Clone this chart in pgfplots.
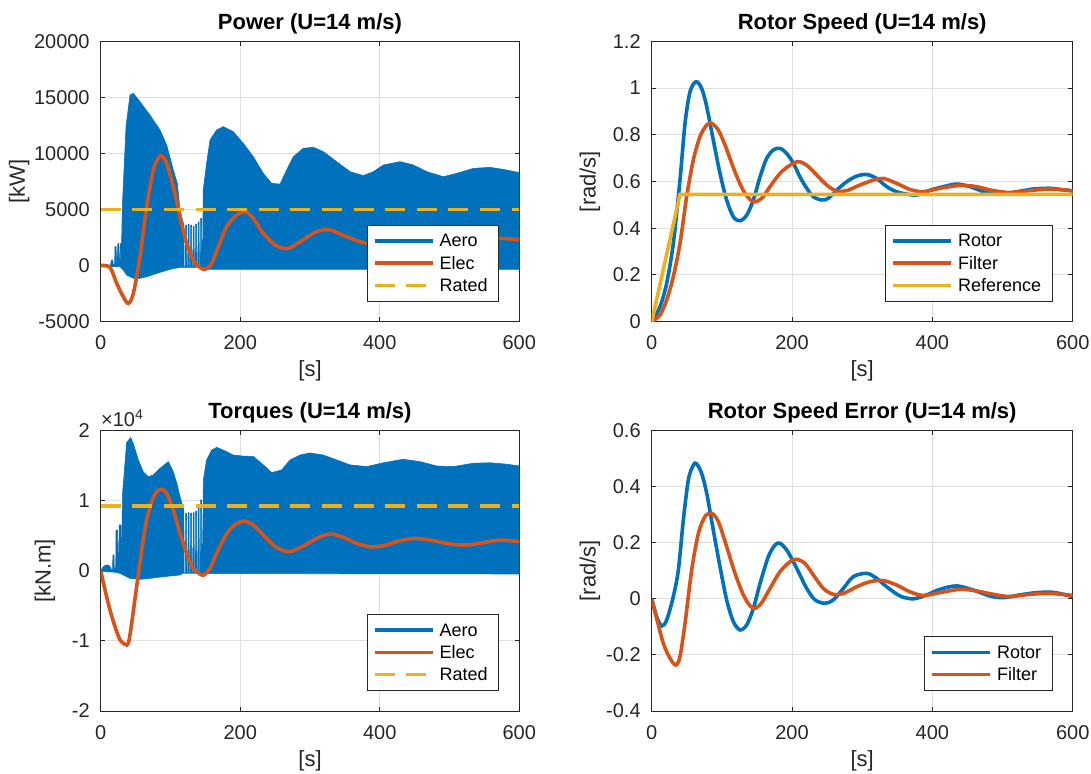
\documentclass[border=0pt]{standalone}
\usepackage{fontspec}
\setmainfont{Liberation Sans}
\usepackage{pgfplots}
\pgfplotsset{compat=1.18}
\definecolor{mblue}{rgb}{0,0.447,0.741}
\definecolor{morange}{rgb}{0.85,0.325,0.098}
\definecolor{myellow}{rgb}{0.929,0.694,0.125}
\definecolor{mtext}{rgb}{0.15,0.15,0.15}
\definecolor{mgrid}{HTML}{DFDFDF}
\pgfplotsset{
  mstyle/.style={
    scale only axis,
    axis line style={mtext, line width=0.5pt},
    tick style={mtext, line width=0.5pt},
    major tick length=2.2pt,
    tick align=inside,
    tick pos=both,
    xticklabel pos=lower, yticklabel pos=left,
    grid=major, grid style={mgrid, line width=0.5pt},
    xmin=0, xmax=600, xtick={0,200,400,600},
    tick label style={font=\fontsize{10}{11}\selectfont, text=mtext},
    xticklabel style={yshift=-3.5pt},
    yticklabel style={xshift=-2pt},
    label style={font=\fontsize{11}{12}\selectfont, text=mtext},
    title style={font=\bfseries\fontsize{11}{12}\selectfont, text=black, at={(axis description cs:0.5,1)}, anchor=base, yshift=0pt},
    xlabel={[s]},
    xlabel style={at={(axis description cs:0.5,-0.197)}, anchor=base},
    /pgf/number format/assume math mode=true,
    /pgf/number format/1000 sep={},
    legend cell align=left,
    legend image code/.code={\draw[##1] (0pt,0pt) -- (29pt,0pt);},
    legend style={font=\fontsize{9}{10}\selectfont, draw=mtext, line width=0.5pt, anchor=south east,
      inner xsep=3pt, inner ysep=2.4pt,
      nodes={text height=7.2pt, text depth=1.3pt, inner ysep=1.3pt, inner xsep=2.5pt, text=black}},
  },
  lw/.style={line width=1.8pt},
}
\begin{document}
\begin{tikzpicture}
\path[use as bounding box] (0,0) rectangle (545.5pt,386.5pt);

% ---------------- Power ----------------
\begin{axis}[mstyle, at={(50.35pt,225.65pt)}, anchor=south west,
  width=209.3pt, height=140.2pt,
  ymin=-5000, ymax=20000, ytick={-5000,0,5000,10000,15000,20000},
  scaled y ticks=false,
  title={Power (U=14 m/s)}, ylabel={[kW]},
  ylabel style={at={(axis description cs:-0.195,0.5)}, anchor=center},
  legend style={at={(axis description cs:0.952,0.0713)}}]
\addlegendimage{mblue, lw}
\addlegendentry{Aero}
\addplot[fill=mblue, draw=mblue, line width=0.3pt, forget plot] coordinates {
(0,0) (14,30) (15.5,500) (17,500) (18,100) (20,100) (20.5,1700) (22,1700) (23,300) (24,300)
(24.5,1900) (26,2000) (27,400) (28,400) (28.5,2000) (30,2000)
(31,5250) (36.3,12390) (42,15210) (46.8,15360) (56.3,14610) (70.7,13420) (85,12090) (94.6,10750)
(104.1,8520) (109.8,7330) (113.7,4960) (118.4,3770)
(119.2,3700) (119.6,-100) (121.4,-100) (121.8,3600) (123,3600) (123.4,-100) (125,-100) (125.4,3700)
(126.6,3700) (127,-100) (128.6,-100) (129,3600) (130.2,3600) (130.6,-100) (132.2,-100) (132.6,3500)
(133.8,3500) (134.2,-100) (135.8,-100) (136.2,3700) (137.4,3700) (137.8,-100) (139.4,-100) (139.8,3900)
(141,3900) (141.4,-100) (143,-100) (143.4,4200) (144.6,4200) (145,-100) (146,-100)
(147,6740) (151.8,9120) (156.7,11200) (166.2,12090) (175.8,12390) (190.1,11940) (204.4,10900)
(218.8,9710) (233.1,8220) (245.1,7330) (257,7270) (266.5,8520) (276.1,9710) (290.4,10460)
(304.8,10550) (319.1,10160) (338.2,9270) (357.3,8380) (376.4,8020) (390.8,8380) (405.1,8970)
(429,9270) (448.1,8970) (467.2,8380) (491.1,7930) (510.2,8220) (534.1,8670) (558,8760)
(577.1,8580) (600,8290)
(600,-330) (400,-330) (200,-330) (147,-330) (146,-150) (118,-150) (113.7,-150) (99.3,-330)
(80.3,-690) (66,-990) (56.3,-1130) (46.8,-1130) (37.2,-840) (32.4,-390) (30,-250) (28,-100) (0,-50)
} --cycle;
\addplot[morange, lw, smooth] coordinates {
(0,0) (13.3,-150) (22.9,-1580) (32.4,-2770) (39.6,-3370) (46.8,-2470) (56.3,800) (65.9,5250)
(75.4,8520) (82.6,9560) (87.4,9800) (94.6,9120) (104.1,7040) (113.7,4360) (123.2,1980) (132.8,500)
(142.3,-150) (149.5,-330) (159,200) (168.6,1690) (180.5,3470) (194.9,4510) (206.8,4810) (218.8,4210)
(233.1,2870) (252.2,1750) (268.9,1540) (285.6,2130) (309.5,3030) (328.6,3180) (352.5,2580)
(376.4,2050) (400,1950) (425,2350) (450,2700) (480,2450) (510,2150) (540,2300) (570,2450) (600,2300)
};
\addlegendentry{Elec}
\addplot[myellow, lw, dash pattern=on 10pt off 5.8pt] coordinates {(0,5000) (600,5000)};
\addlegendentry{Rated}
\end{axis}

% ---------------- Rotor speed ----------------
\begin{axis}[mstyle, at={(325.85pt,225.65pt)}, anchor=south west,
  width=210.5pt, height=140.2pt,
  ymin=0, ymax=1.2, ytick={0,0.2,0.4,0.6,0.8,1,1.2},
  title={Rotor Speed (U=14 m/s)}, ylabel={[rad/s]},
  ylabel style={at={(axis description cs:-0.147,0.5)}, anchor=center},
  legend style={at={(axis description cs:0.9525,0.0713)}}]
\addplot[mblue, lw, smooth] coordinates {
(0,0) (11.8,0.064) (21.3,0.164) (30.8,0.335) (40.3,0.606) (47.5,0.849) (54.6,0.984) (63.1,1.027)
(71.2,0.998) (78.4,0.92) (87.8,0.777) (97.3,0.635) (106.8,0.521) (116.3,0.449) (125.8,0.432)
(135.4,0.456) (144.9,0.521) (154.4,0.62) (163.8,0.699) (173.4,0.735) (182.8,0.742) (192.4,0.72)
(201.9,0.678) (211.3,0.62) (220.9,0.571) (230.3,0.535) (242.2,0.521) (251.7,0.528) (263.6,0.563)
(277.9,0.599) (292.1,0.623) (306.4,0.63) (320.6,0.613) (334.9,0.578) (349.1,0.556) (363.4,0.546)
(377.6,0.542) (396.6,0.563) (415.6,0.578) (434.6,0.589) (453.6,0.578) (477.4,0.552) (496.4,0.546)
(520.2,0.556) (543.9,0.568) (567.7,0.571) (582,0.566) (600,0.56)
};
\addlegendentry{Rotor}
\addplot[morange, lw, smooth] coordinates {
(0,0) (11.8,0.029) (21.3,0.093) (30.8,0.193) (40.3,0.335) (49.8,0.535) (59.3,0.692) (68.8,0.792)
(78.4,0.842) (85.5,0.849) (95,0.82) (104.5,0.756) (114,0.678) (123.5,0.606) (133,0.549) (144.9,0.513)
(156.8,0.528) (168.6,0.578) (182.9,0.635) (197.1,0.67) (209,0.685) (220.9,0.67) (235.1,0.628)
(249.4,0.585) (263.6,0.559) (277.9,0.561) (296.9,0.585) (315.9,0.606) (330.1,0.613) (349.1,0.592)
(368.1,0.566) (387.1,0.556) (410.9,0.571) (439.4,0.583) (463.1,0.578) (486.9,0.561) (510.7,0.553)
(539.2,0.561) (567.7,0.568) (600,0.56)
};
\addlegendentry{Filter}
\addplot[myellow, lw] coordinates {(0,0) (40.3,0.545) (600,0.545)};
\addlegendentry{Reference}
\end{axis}

% ---------------- Torques ----------------
\begin{axis}[mstyle, at={(50.35pt,31pt)}, anchor=south west,
  width=209.3pt, height=140.25pt,
  ymin=-20000, ymax=20000, ytick={-20000,-10000,0,10000,20000},
  yticklabels={-2,-1,0,1,2},
  scaled y ticks=false,
  extra description/.code={\node[anchor=south west, inner sep=0pt, font=\fontsize{10}{11}\selectfont, text=mtext] at ([yshift=1.5pt]rel axis cs:0,1) {×10\textsuperscript{4}};},
  title={Torques (U=14 m/s)}, ylabel={[kN.m]},
  ylabel style={at={(axis description cs:-0.133,0.5)}, anchor=center},
  legend style={at={(axis description cs:0.952,0.0713)}}]
\addlegendimage{mblue, lw}
\addlegendentry{Aero}
\addplot[fill=mblue, draw=mblue, line width=0.3pt, forget plot] coordinates {
(0,0) (3.8,580) (7,800) (11,820) (14,500) (15.7,100) (17,100) (17.5,2250) (19,2250) (19.5,300)
(21.5,300) (22,5800) (24,5800) (25,1500) (26,1500) (26.5,6540) (29,6540) (30,2000) (30.5,2000)
(31,10570) (37.2,18300) (43,19000) (46.8,18100) (54,15800) (61.1,14100) (68.3,13400) (75.4,13660)
(85,14600) (96.9,15560) (104.1,14100) (109.8,12230) (113.7,10570) (118.4,8900)
(119.2,8700) (119.6,-300) (121.4,-300) (121.8,8200) (123,8200) (123.4,-300) (125,-300) (125.4,8300)
(126.6,8300) (127,-300) (128.6,-300) (129,8200) (130.2,8200) (130.6,-300) (132.2,-300) (132.6,8300)
(133.8,8300) (134.2,-300) (135.8,-300) (136.2,8500) (137.4,8500) (137.8,-300) (139.4,-300) (139.8,9000)
(141,9000) (141.4,-300) (143,-300) (143.4,10100) (144.6,10100) (145,-300) (146,-300)
(147.1,12940) (151.8,15800) (159,17200) (166.2,17600) (175.8,17200) (190.1,16500) (204.4,16350)
(218.8,16300) (233.1,15100) (245.1,14000) (259.4,14370) (271.3,15800) (285.6,16500) (300,16800)
(319.1,16500) (338.2,15800) (357.3,15100) (381.2,14850) (405.1,15400) (433.8,15900) (457.7,15560)
(481.6,14940) (505.4,14850) (534.1,15330) (558,15400) (581.9,15200) (600,14940)
(600,-460) (147,-400) (146,-350) (118,-350) (113.7,-600) (89.8,-840) (70.7,-1080) (56.3,-1220)
(42,-1080) (32.4,-600) (27.7,-370) (20,-200) (0,-100)
} --cycle;
\addplot[morange, lw, smooth] coordinates {
(0,0) (6.2,-2740) (13.3,-5600) (20.5,-7970) (27.7,-9860) (34.8,-10480) (39.6,-10340) (44.4,-7490)
(51.5,-2270) (58.7,2960) (65.9,7240) (73.1,9850) (80.2,11280) (87.4,11610) (94.6,11050) (104.1,8670)
(113.7,5340) (123.2,2490) (132.8,340) (142.3,-460) (148.1,-600) (156.7,340) (166.2,2490) (178.2,4870)
(190.1,6390) (204.4,7090) (218.8,6530) (233.1,5100) (247.4,3670) (259.4,2960) (271.3,2720)
(290.4,3530) (309.6,4620) (328.7,5240) (347.8,4760) (366.9,3910) (386,3430) (405.1,3570) (429,4290)
(452.9,4620) (476.8,4290) (500.6,3820) (524.5,3670) (548.4,4000) (572.3,4380) (600,4150)
};
\addlegendentry{Elec}
\addplot[myellow, lw, dash pattern=on 10pt off 5.8pt] coordinates {(0,9230) (600,9230)};
\addlegendentry{Rated}
\end{axis}

% ---------------- Rotor speed error ----------------
\begin{axis}[mstyle, at={(325.85pt,31pt)}, anchor=south west,
  width=210.5pt, height=140.25pt,
  ymin=-0.4, ymax=0.6, ytick={-0.4,-0.2,0,0.2,0.4,0.6},
  title={Rotor Speed Error (U=14 m/s)}, ylabel={[rad/s]},
  ylabel style={at={(axis description cs:-0.147,0.5)}, anchor=center},
  legend style={at={(axis description cs:0.9525,0.0713)}}]
\addplot[mblue, lw, smooth] coordinates {
(0,0) (7.1,-0.064) (14.2,-0.097) (21.3,-0.076) (30.8,0.008) (38,0.103) (45.1,0.281) (52.2,0.424)
(59.4,0.477) (64.1,0.481) (71.2,0.447) (78.4,0.376) (87.8,0.245) (97.3,0.115) (106.8,-0.004)
(116.3,-0.081) (125.8,-0.111) (135.4,-0.093) (144.9,-0.034) (154.4,0.055) (166.2,0.15) (175.8,0.192)
(182.9,0.198) (192.4,0.174) (201.9,0.132) (211.3,0.085) (220.9,0.037) (232.7,-0.004) (247,-0.016)
(258.8,-0.004) (273.1,0.037) (287.4,0.079) (306.4,0.091) (320.6,0.073) (334.9,0.043) (353.9,0.01)
(372.9,0) (391.9,0.014) (410.9,0.034) (434.6,0.046) (458.4,0.031) (482.1,0.01) (501.1,0.004)
(524.9,0.014) (548.6,0.022) (572.4,0.023) (600,0.008)
};
\addlegendentry{Rotor}
\addplot[morange, lw, smooth] coordinates {
(0,0) (7.1,-0.07) (16.6,-0.159) (26.1,-0.212) (34.2,-0.236) (40.3,-0.206) (47.5,-0.087) (57,0.103)
(66.5,0.233) (75.9,0.293) (85.5,0.305) (95,0.275) (106.8,0.186) (118.7,0.091) (130.6,0.014)
(140.1,-0.025) (147.2,-0.034) (156.8,-0.014) (168.6,0.037) (182.9,0.097) (197.1,0.132) (206.6,0.141)
(218.5,0.126) (230.3,0.085) (244.6,0.037) (258.8,0.016) (273.1,0.019) (292.1,0.043) (311.1,0.061)
(330.1,0.065) (349.1,0.049) (368.1,0.025) (387.1,0.012) (410.9,0.022) (439.4,0.034) (463.1,0.028)
(486.9,0.016) (510.7,0.008) (539.2,0.016) (567.7,0.019) (600,0.012)
};
\addlegendentry{Filter}
\end{axis}
\end{tikzpicture}
\end{document}
